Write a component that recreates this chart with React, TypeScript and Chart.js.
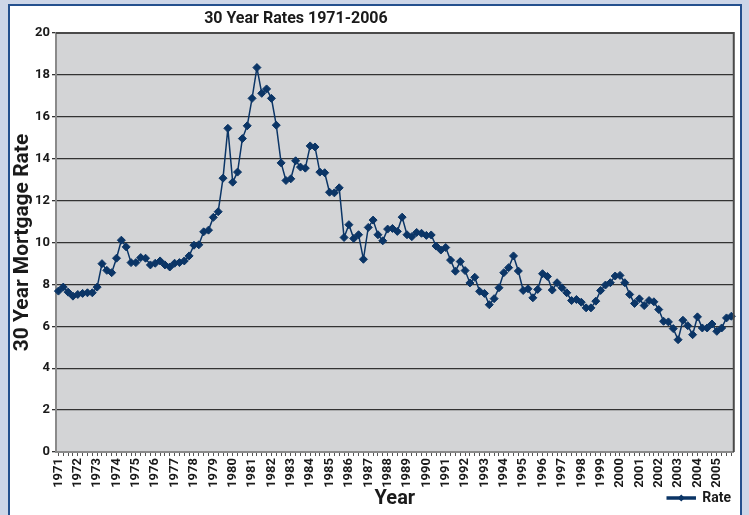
import React, { useEffect, useRef } from "react";
import { Chart, registerables } from "chart.js";

Chart.register(...registerables);

const chartTitle = "30 Year Rates 1971-2006";
const yAxisTitle = "30 Year Mortgage Rate";
const xAxisTitle = "Year";
const seriesName = "Rate";

const years: string[] = [
  "1971", "1972", "1973", "1974", "1975", "1976", "1977", "1978", "1979", "1980",
  "1981", "1982", "1983", "1984", "1985", "1986", "1987", "1988", "1989", "1990",
  "1991", "1992", "1993", "1994", "1995", "1996", "1997", "1998", "1999", "2000",
  "2001", "2002", "2003", "2004", "2005",
];
const quarterNames: string[] = ["Q1", "Q2", "Q3", "Q4"];

const rates: number[] = [
  7.68, 7.87, 7.63, 7.44, 7.52, 7.57, 7.6, 7.6, 7.87, 8.99,
  8.67, 8.56, 9.25, 10.11, 9.79, 9.04, 9.04, 9.28, 9.25, 8.93,
  9.01, 9.12, 8.93, 8.83, 9.01, 9.04, 9.12, 9.36, 9.87, 9.89,
  10.51, 10.59, 11.2, 11.47, 13.07, 15.45, 12.88, 13.36, 14.96, 15.57,
  16.88, 18.35, 17.12, 17.33, 16.88, 15.6, 13.8, 12.96, 13.04, 13.9,
  13.6, 13.55, 14.61, 14.56, 13.36, 13.33, 12.4, 12.37, 12.61, 10.24,
  10.85, 10.19, 10.37, 9.2, 10.72, 11.07, 10.37, 10.08, 10.64, 10.67,
  10.53, 11.21, 10.37, 10.28, 10.48, 10.44, 10.34, 10.36, 9.83, 9.64,
  9.76, 9.16, 8.63, 9.09, 8.66, 8.07, 8.34, 7.67, 7.57, 7.03,
  7.32, 7.84, 8.56, 8.8, 9.36, 8.64, 7.71, 7.79, 7.36, 7.76,
  8.51, 8.38, 7.73, 8.08, 7.84, 7.6, 7.23, 7.28, 7.15, 6.88,
  6.88, 7.2, 7.71, 7.97, 8.08, 8.4, 8.43, 8.08, 7.52, 7.09,
  7.31, 6.99, 7.23, 7.17, 6.8, 6.24, 6.21, 5.89, 5.36, 6.29,
  6.03, 5.6, 6.45, 5.92, 5.92, 6.11, 5.76, 5.92, 6.4, 6.48,
];

const categories: string[] = years.flatMap((y) => quarterNames.map((q) => `${y} ${q}`));

const FONT = "Roboto, 'Open Sans', sans-serif";
const NAVY = "#0b3566";
const TEXT = "#1a1a1a";

const framePlugin = {
  id: "framePlugin",
  beforeDraw(chart: any) {
    const { ctx, chartArea: a } = chart;
    ctx.save();
    ctx.fillStyle = "#d3d4d6";
    ctx.fillRect(a.left, a.top, a.right - a.left, a.bottom - a.top);
    ctx.restore();
  },
  afterDraw(chart: any) {
    const { ctx, chartArea: a } = chart;
    ctx.save();
    ctx.strokeStyle = "#4a4a4a";
    ctx.lineWidth = 2;
    ctx.beginPath();
    ctx.moveTo(a.left, a.top);
    ctx.lineTo(a.right, a.top);
    ctx.lineTo(a.right, a.bottom);
    ctx.stroke();
    // title
    ctx.fillStyle = TEXT;
    ctx.font = `bold 16px ${FONT}`;
    ctx.textAlign = "center";
    ctx.textBaseline = "middle";
    ctx.fillText(chartTitle, a.left + (a.right - a.left) * 0.354, 19);
    // legend diamond marker
    const lg = chart.legend;
    if (lg && lg.legendHitBoxes && lg.legendHitBoxes[0]) {
      const hb = lg.legendHitBoxes[0];
      const bw = lg.options.labels.boxWidth;
      const cx = hb.left + bw / 2;
      const cy = hb.top + hb.height / 2;
      const r = 3.5;
      ctx.fillStyle = NAVY;
      ctx.beginPath();
      ctx.moveTo(cx, cy - r);
      ctx.lineTo(cx + r, cy);
      ctx.lineTo(cx, cy + r);
      ctx.lineTo(cx - r, cy);
      ctx.closePath();
      ctx.fill();
    }
    ctx.restore();
  },
};

export default function App() {
  const canvasRef = useRef<HTMLCanvasElement | null>(null);

  useEffect(() => {
    const canvas = canvasRef.current;
    if (!canvas) return;
    Chart.defaults.font.family = FONT;
    const chart = new Chart(canvas, {
      type: "line",
      data: {
        labels: categories,
        datasets: [
          {
            label: seriesName,
            data: rates,
            borderColor: NAVY,
            backgroundColor: NAVY,
            borderWidth: 1.5,
            pointStyle: "rectRot",
            pointRadius: 4,
            pointBackgroundColor: NAVY,
            pointBorderColor: NAVY,
            pointBorderWidth: 1,
            tension: 0,
          },
        ],
      },
      options: {
        responsive: false,
        animation: false,
        devicePixelRatio: 1,
        layout: { padding: { left: 8, right: 15, top: 33, bottom: 0 } },
        plugins: {
          title: { display: false },
          tooltip: { enabled: false },
          legend: {
            display: true,
            position: "bottom",
            align: "end",
            labels: {
              boxWidth: 28,
              boxHeight: 2,
              padding: 3,
              color: TEXT,
              font: { size: 14, weight: "bold", family: FONT },
            },
          },
        },
        scales: {
          x: {
            type: "category",
            offset: true,
            grid: {
              display: true,
              drawOnChartArea: false,
              drawTicks: true,
              tickLength: 4,
              color: "#555",
            },
            border: { display: true, color: "#8a8a8a", width: 2 },
            ticks: {
              autoSkip: false,
              maxRotation: 90,
              minRotation: 90,
              padding: 2,
              color: TEXT,
              font: { size: 13, weight: "bold", family: FONT },
              callback: (_v: any, i: number) => (i % 4 === 0 ? years[i / 4] : ""),
            },
            title: {
              display: true,
              text: xAxisTitle,
              color: TEXT,
              font: { size: 20, weight: "bold", family: FONT },
              padding: { top: 0, bottom: -23 },
            },
            afterFit: (scale: any) => {
              scale.height = 36;
            },
          },
          y: {
            min: 0,
            max: 20,
            ticks: {
              stepSize: 2,
              padding: 2,
              color: TEXT,
              font: { size: 13, weight: "bold", family: FONT },
            },
            grid: {
              color: "#333",
              lineWidth: 1.3,
              tickLength: 4,
              drawTicks: true,
            },
            border: { display: true, color: "#8a8a8a", width: 2 },
            title: {
              display: true,
              text: yAxisTitle,
              color: TEXT,
              font: { size: 21, weight: "bold", family: FONT },
              padding: { top: 2, bottom: 0 },
            },
            afterFit: (scale: any) => {
              scale.width = 48;
            },
          },
        },
      },
      plugins: [framePlugin],
    });
    return () => chart.destroy();
  }, []);

  return (
    <div
      style={{
        position: "fixed",
        left: 0,
        top: 0,
        width: 749,
        height: 515,
        background: "#cdd6e8",
        overflow: "hidden",
      }}
    >
      <div
        style={{
          position: "absolute",
          left: 8,
          top: 4,
          width: 730,
          height: 530,
          background: "#ffffff",
          border: "2px solid #24508e",
        }}
      />
      <canvas
        ref={canvasRef}
        width={749}
        height={515}
        style={{ position: "absolute", left: 0, top: 0, display: "block" }}
      />
    </div>
  );
}
